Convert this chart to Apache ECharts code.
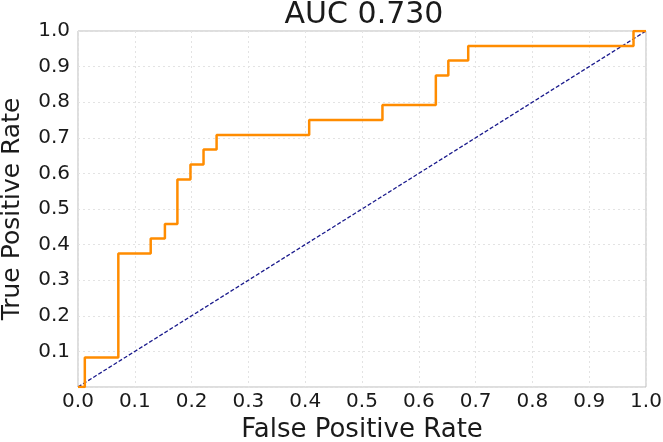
<!DOCTYPE html>
<html>
<head>
<meta charset="utf-8">
<script src="https://cdn.jsdelivr.net/npm/echarts@6/dist/echarts.min.js"></script>
<style>html,body{margin:0;padding:0;background:#fff;}#chart{width:663px;height:442px;}</style>
</head>
<body>
<div id="chart"></div>
<script>
// ROC curve corner points
var fpr = [0, 0.012, 0.012, 0.071, 0.071, 0.128, 0.128, 0.153, 0.153, 0.175, 0.175, 0.198, 0.198, 0.221, 0.221, 0.244, 0.244, 0.407, 0.407, 0.536, 0.536, 0.630, 0.630, 0.652, 0.652, 0.687, 0.687, 0.978, 0.978, 1.0];
var tpr = [0, 0, 0.083, 0.083, 0.375, 0.375, 0.417, 0.417, 0.458, 0.458, 0.583, 0.583, 0.625, 0.625, 0.667, 0.667, 0.708, 0.708, 0.750, 0.750, 0.792, 0.792, 0.875, 0.875, 0.917, 0.917, 0.958, 0.958, 1.0, 1.0];
var diagX = [0, 1];
var diagY = [0, 1];
var titleText = 'AUC 0.730';
var xName = 'False Positive Rate';
var yName = 'True Positive Rate';

var rocData = fpr.map(function (x, i) { return [x, tpr[i]]; });
var diagData = diagX.map(function (x, i) { return [x, diagY[i]]; });
var font = 'DejaVu Sans';
var txt = '#1a1a1a';

var chart = echarts.init(document.getElementById('chart'), null, {renderer: 'canvas'});
chart.setOption({
  animation: false,
  backgroundColor: '#fff',
  title: {
    text: titleText,
    left: 364, top: 0, textAlign: 'center', padding: 0,
    textStyle: {fontFamily: font, fontSize: 30, fontWeight: 'normal', color: txt, lineHeight: 30}
  },
  grid: {left: 78, right: 17, top: 31, bottom: 55, containLabel: false, outerBoundsMode: 'none',
         show: true, borderColor: '#bdbdbd', borderWidth: 1, backgroundColor: 'transparent'},
  xAxis: {
    type: 'value', min: 0, max: 1, interval: 0.1,
    name: xName, nameLocation: 'middle', nameGap: 28,
    nameTextStyle: {fontFamily: font, fontSize: 26, color: txt},
    axisLine: {show: false}, axisTick: {show: false},
    axisLabel: {fontFamily: font, fontSize: 20, color: txt, margin: 5, formatter: function (v) { return v.toFixed(1); }},
    splitLine: {show: true, lineStyle: {color: '#e3e3e3', type: [2, 3], width: 1}}
  },
  yAxis: {
    type: 'value', min: 0, max: 1, interval: 0.1,
    name: yName, nameLocation: 'middle', nameGap: 53,
    nameTextStyle: {fontFamily: font, fontSize: 25, color: txt},
    axisLine: {show: false}, axisTick: {show: false},
    axisLabel: {fontFamily: font, fontSize: 20, color: txt, margin: 8, formatter: function (v) { return v === 0 ? '' : v.toFixed(1); }},
    splitLine: {show: true, lineStyle: {color: '#e3e3e3', type: [2, 3], width: 1}}
  },
  series: [
    {
      type: 'line', data: diagData, showSymbol: false, symbol: 'none', z: 2,
      lineStyle: {color: '#1a1a8c', width: 1.3, type: [4, 2]}
    },
    {
      type: 'line', data: rocData, showSymbol: false, symbol: 'none', z: 3,
      lineStyle: {color: '#ff8c00', width: 2.5}
    }
  ]
});
</script>
</body>
</html>
